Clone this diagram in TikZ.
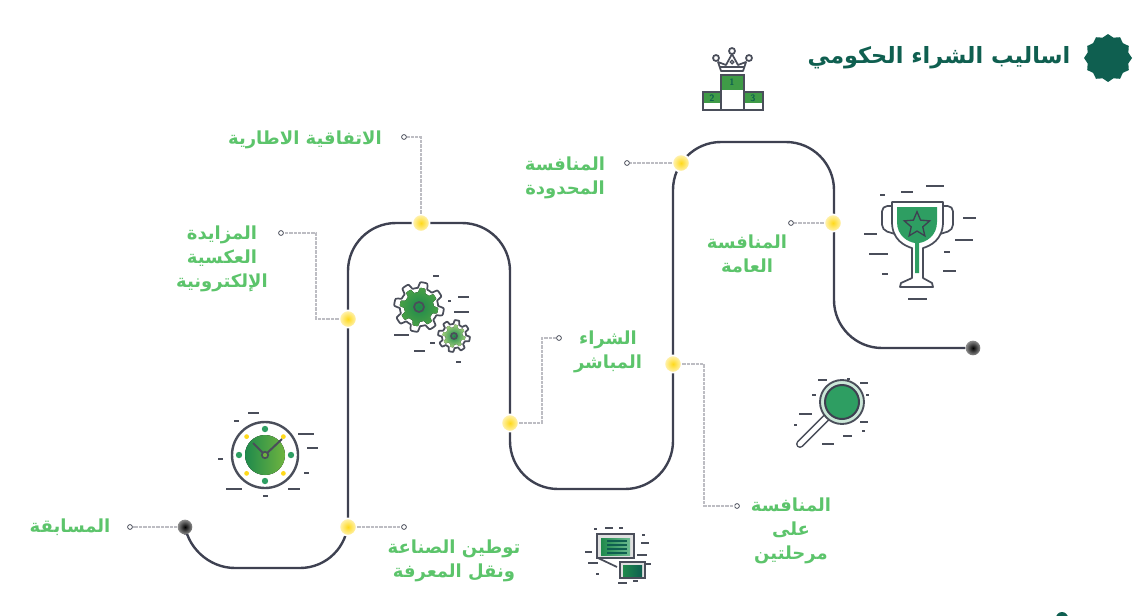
\documentclass[tikz,border=0pt]{standalone}
\usepackage{fontspec}
\usepackage{xcolor}
\usepackage{tikz}
\usetikzlibrary{arrows.meta, shapes, positioning, calc, backgrounds}
\newfontfamily\arfont[Script=Arabic]{DejaVu Sans}
\TeXXeTstate=1
\definecolor{labelgreen}{HTML}{5CC46B}
\definecolor{sealteal}{HTML}{0F5F50}
\definecolor{trackgrey}{HTML}{3E4151}
\definecolor{leadergrey}{HTML}{BDBDC3}
\definecolor{cupgreen}{HTML}{2E9E62}
\definecolor{deepgreen}{HTML}{1F8A4C}
\definecolor{limegreen}{HTML}{6FB43F}
\definecolor{dotyellow}{HTML}{FFD91A}
\definecolor{iconline}{HTML}{4A4E5A}
\newcommand{\artxt}[1]{\beginR #1\endR}
\newcommand{\gearpath}[2]{plot[domain=0:360,samples=145] (\x:{#1*(1+#2*min(max(2.5*sin(8*\x),-1),1))})}

\begin{document}
\begin{tikzpicture}[
        x=0.75pt, y=-0.75pt,
        label/.style={font=\arfont\bfseries\fontsize{13.5}{18}\selectfont, text=labelgreen, align=center, inner sep=0pt},
        title/.style={font=\arfont\bfseries\fontsize{16.8}{20}\selectfont, text=sealteal, inner sep=0pt},
        ydot/.style={circle, draw=white, line width=1.2pt, inner color=dotyellow, outer color=dotyellow!30, minimum size=13pt, inner sep=0pt},
        bdot/.style={circle, inner color=black, outer color=black!45, minimum size=11pt, inner sep=0pt},
        ring/.style={circle, draw=iconline, fill=white, line width=0.6pt, minimum size=3.6pt, inner sep=0pt},
        track/.style={draw=trackgrey, line width=1.8pt, rounded corners=36pt},
        leader/.style={draw=leadergrey, line width=0.8pt, dash pattern=on 2.5pt off 0.8pt},
        dashline/.style={draw=iconline, line width=1pt},
        iconbox/.style={draw=iconline, line width=1.3pt},
        podnum/.style={font=\sffamily\bfseries\fontsize{7}{7}\selectfont, text=sealteal, inner sep=0pt}
    ]
    \useasboundingbox (0,0) rectangle (1143,615);

    \node (dota) [bdot] at (185,527) {};
    \node (dotb) [bdot] at (973,348) {};
    \node (doty) [ydot] at (348,527) {};
    \node (dotm) [ydot] at (348,319) {};
    \node (dott) [ydot] at (421,223) {};
    \node (dots) [ydot] at (510,423) {};
    \node (dotl) [ydot] at (673,364) {};
    \node (dotc) [ydot] at (681,163) {};
    \node (dotg) [ydot] at (833,223) {};

    \node (ringa) [ring] at (130,527) {};
    \node (ringy) [ring] at (404,527) {};
    \node (ringm) [ring] at (281,233) {};
    \node (ringt) [ring] at (404,137) {};
    \node (rings) [ring] at (559,338) {};
    \node (ringl) [ring] at (737,506) {};
    \node (ringc) [ring] at (627,163) {};
    \node (ringg) [ring] at (791,223) {};

    \coordinate (bend1) at (187,568);
    \coordinate (bend2) at (348,568);
    \coordinate (bend3) at (348,223);
    \coordinate (bend4) at (510,223);
    \coordinate (bend5) at (510,489);
    \coordinate (bend6) at (673,489);
    \coordinate (bend7) at (673,142);
    \coordinate (bend8) at (834,142);
    \coordinate (bend9) at (834,348);
    \coordinate (kneem) at (316,233);
    \coordinate (kneet) at (421,137);
    \coordinate (knees) at (542,338);
    \coordinate (kneel) at (704,506);

    \begin{scope}[on background layer]
        \draw [track] (dota.south) -- (bend1) -- (bend2) -- (bend3) -- (bend4) -- (bend5) -- (bend6) -- (bend7) -- (bend8) -- (bend9) -- (dotb.west);
    \end{scope}

    \draw [leader] (dota) -- (ringa);
    \draw [leader] (doty) -- (ringy);
    \draw [leader] (dotm) -| (kneem) -- (ringm);
    \draw [leader] (dott) -- (kneet) -- (ringt);
    \draw [leader] (dots) -| (knees) -- (rings);
    \draw [leader] (dotl) -| (kneel) -- (ringl);
    \draw [leader] (dotc) -- (ringc);
    \draw [leader] (dotg) -- (ringg);

    \node (lbla) [label] at (70,527) {\artxt{المسابقة}};
    \node (lblt) [label] at (305,140) {\artxt{الاتفاقية الاطارية}};
    \node (lblm) [label] at (222,259) {\artxt{المزايدة}\\\artxt{العكسية}\\\artxt{الإلكترونية}};
    \node (lblc) [label] at (565,178) {\artxt{المنافسة}\\\artxt{المحدودة}};
    \node (lblg) [label] at (747,254) {\artxt{المنافسة}\\\artxt{العامة}};
    \node (lbls) [label] at (608,352) {\artxt{الشراء}\\\artxt{المباشر}};
    \node (lbll) [label] at (791,531) {\artxt{المنافسة}\\\artxt{على}\\\artxt{مرحلتين}};
    \node (lbly) [label] at (454,561) {\artxt{توطين الصناعة}\\\artxt{ونقل المعرفة}};

    \node (headline) [title] at (939,58) {\artxt{اساليب الشراء الحكومي}};
    \node (seal) [star, star points=12, star point ratio=1.14, fill=sealteal, minimum size=36pt, inner sep=0pt] at (1108,58) {};
    \fill [sealteal] (1062,618) circle (6);

    % podium
    \fill [limegreen!40!deepgreen] (721,75) rectangle (744,90);
    \fill [limegreen!40!deepgreen] (703,92) rectangle (721,103);
    \fill [limegreen!40!deepgreen] (744,92) rectangle (763,103);
    \draw [iconbox] (721,110) -- (721,75) -- (744,75) -- (744,110);
    \draw [iconbox] (721,92) -- (703,92) -- (703,110);
    \draw [iconbox] (744,92) -- (763,92) -- (763,110);
    \draw [iconbox, line width=1.5pt] (702,110) -- (764,110);
    \node (pod1) [podnum] at (732,82) {1};
    \node (pod2) [podnum] at (712,98) {2};
    \node (pod3) [podnum] at (753,98) {3};
    \draw [iconbox, line join=round, fill=white] (721,71) -- (718,62) -- (726,65) -- (732,54) -- (738,65) -- (746,62) -- (743,71) -- cycle;
    \draw [iconbox] (720,67) -- (744,67);
    \draw [iconbox, fill=white] (732,51) circle (3);
    \draw [iconbox, fill=white] (716,58) circle (3);
    \draw [iconbox, fill=white] (749,58) circle (3);
    \draw [iconbox, line width=1pt] (732,62) circle (1.8);

    % trophy
    \draw [iconbox, rounded corners=4pt] (892,206) -- (882,206) -- (882,230) -- (895,234);
    \draw [iconbox, rounded corners=4pt] (943,206) -- (953,206) -- (953,230) -- (940,234);
    \fill [cupgreen] (897,207) -- (937,207) -- (937,222) .. controls (937,236) and (926,242) .. (919,243) -- (919,273) -- (915,273) -- (915,243) .. controls (908,242) and (897,236) .. (897,222) -- cycle;
    \draw [iconbox, line join=round] (892,202) -- (943,202) -- (943,222) .. controls (943,240) and (930,246) .. (923,248) -- (923,278) -- (932,283) -- (933,287) -- (900,287) -- (901,283) -- (912,278) -- (912,248) .. controls (905,246) and (892,240) .. (892,222) -- cycle;
    \node (cupstar) [star, star points=5, star point ratio=2.2, draw=trackgrey, line width=1pt, minimum size=20pt, inner sep=0pt] at (917,225) {};
    \foreach \xa/\xb/\yy in {926/944/186, 901/913/192, 880/885/195, 963/976/218, 955/973/240, 944/950/252, 943/956/271, 864/877/234, 869/888/254, 882/888/274, 908/927/299}
        \draw [dashline] (\xa,\yy) -- (\xb,\yy);

    % gears
    \begin{scope}[shift={(419,307)}]
        \draw [iconbox, fill=white, line join=round] \gearpath{22}{0.13} -- cycle;
        \fill [inner color=deepgreen, outer color=limegreen!50!deepgreen] \gearpath{17}{0.13} -- cycle;
        \draw [iconbox] (0,0) circle (5);
    \end{scope}
    \begin{scope}[shift={(454,336)}]
        \draw [iconbox, fill=white, line join=round] \gearpath{14}{0.14} -- cycle;
        \fill [inner color=deepgreen, outer color=limegreen!70] \gearpath{10}{0.14} -- cycle;
        \draw [iconbox] (0,0) circle (3);
    \end{scope}
    \foreach \xa/\xb/\yy in {433/439/276, 448/451/301, 458/469/297, 454/469/312, 394/409/335, 430/435/343, 414/425/351, 456/461/362}
        \draw [dashline] (\xa,\yy) -- (\xb,\yy);

    % clock
    \begin{scope}[shift={(265,455)}]
        \draw [iconbox, line width=1.8pt] (0,0) circle (33);
        \fill [left color=deepgreen, right color=limegreen] (0,0) circle (20);
        \foreach \ang in {0,90,180,270}
            \fill [cupgreen] (\ang:26) circle (3.2);
        \foreach \ang in {45,135,225,315}
            \fill [dotyellow] (\ang:26) circle (2.4);
        \draw [iconbox, line width=1.5pt] (0,0) -- (-12,-12);
        \draw [iconbox, line width=1.5pt] (0,0) -- (17,-16);
        \draw [iconbox, fill=limegreen] (0,0) circle (3.2);
    \end{scope}
    \foreach \xa/\xb/\yy in {248/259/413, 234/239/421, 298/314/434, 307/318/448, 218/223/459, 304/309/473, 226/242/489, 288/300/489, 263/268/496}
        \draw [dashline] (\xa,\yy) -- (\xb,\yy);

    % screens
    \draw [iconbox, line width=1.5pt, fill=black!12] (597,534) rectangle (634,558);
    \fill [left color=deepgreen, right color=cupgreen!70] (601,538) rectangle (630,555);
    \foreach \yy in {541,545,549,553}
        \draw [sealteal, line width=0.9pt] (607,\yy) -- (627,\yy);
    \draw [iconbox] (598,558) -- (617,567);
    \draw [iconbox, line width=1.5pt, fill=black!12] (620,562) rectangle (645,578);
    \fill [left color=deepgreen, right color=sealteal] (623,565) rectangle (642,576);
    \foreach \xa/\xb/\yy in {594/597/529, 605/613/528, 619/623/528, 642/645/535, 641/649/543, 585/592/552, 637/647/555, 588/598/563, 646/651/564, 596/599/574, 618/627/583, 633/638/581}
        \draw [dashline] (\xa,\yy) -- (\xb,\yy);

    % magnifier
    \draw [iconbox, line width=6pt, line cap=round] (828,416) -- (800,444);
    \draw [white, line width=3.6pt, line cap=round] (828,416) -- (800,444);
    \draw [iconbox, line width=1.4pt, fill=cupgreen!25] (842,402) circle (22);
    \draw [draw=trackgrey, line width=1.5pt, fill=cupgreen] (842,402) circle (17);
    \foreach \xa/\xb/\yy in {818/827/380, 847/850/379, 860/868/383, 812/816/395, 866/869/395, 799/812/414, 794/797/425, 860/868/422, 862/865/431, 843/852/436, 822/834/444}
        \draw [dashline] (\xa,\yy) -- (\xb,\yy);
\end{tikzpicture}
\end{document}
